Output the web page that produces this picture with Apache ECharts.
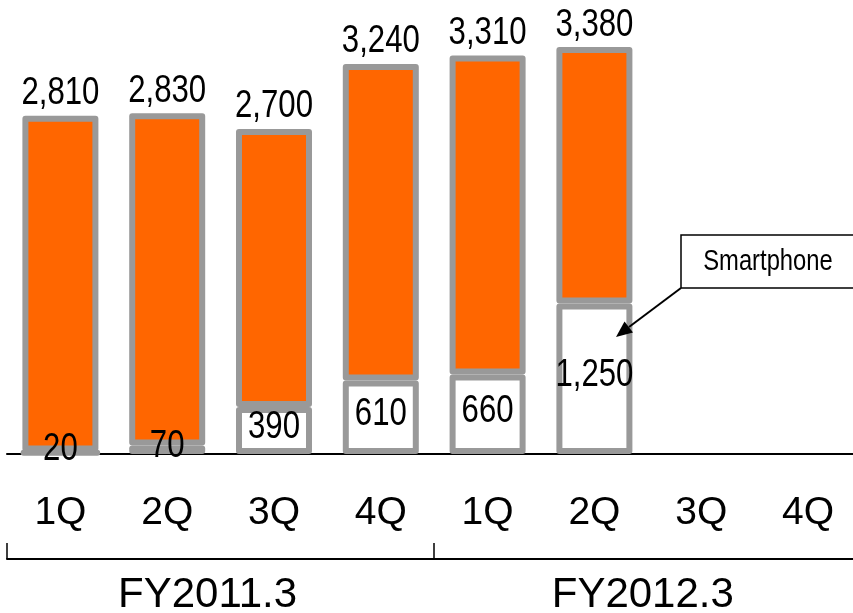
<!DOCTYPE html>
<html>
<head>
<meta charset="utf-8">
<script src="https://cdn.jsdelivr.net/npm/echarts@6/dist/echarts.min.js"></script>
<style>
  html, body { margin: 0; padding: 0; background: #fff; }
  #chart { width: 853px; height: 613px; }
</style>
</head>
<body>
<div id="chart"></div>
<script>
// Quarterly units: total shipments and the smartphone portion
const quarters = ['1Q', '2Q', '3Q', '4Q', '1Q', '2Q', '3Q', '4Q'];
const fiscalYears = ['FY2011.3', 'FY2012.3'];
const totals = [2810, 2830, 2700, 3240, 3310, 3380, null, null];
const smartphone = [20, 70, 390, 610, 660, 1250, null, null];

const others = totals.map((t, i) => (t == null ? null : t - smartphone[i]));
const fmt = v => v.toLocaleString('en-US');

const SANS = "'Liberation Sans', Arial, sans-serif";
const NARROW_SCALE = 0.82; // condensed look for the value labels

const chart = echarts.init(document.getElementById('chart'));

const barBorder = { borderColor: '#999999', borderWidth: 6, borderJoin: 'round' };

// Value labels drawn as condensed text at the bar positions
function renderLabels(params, api) {
  const i = api.value(0);
  const total = api.value(1);
  const smart = api.value(2);
  if (isNaN(total)) return null;
  const pTop = api.coord([i, total]);
  const pSmart = api.coord([i, smart]);
  const pBase = api.coord([i, 0]);
  const txt = (x, y, s) => ({
    type: 'text',
    x: x,
    y: y,
    scaleX: NARROW_SCALE,
    style: {
      text: s,
      fontFamily: SANS,
      fontSize: 38,
      fill: '#000',
      align: 'center',
      verticalAlign: 'middle'
    }
  });
  return {
    type: 'group',
    children: [
      txt(pTop[0], pTop[1] - 22, fmt(total)),
      txt(pSmart[0], (pSmart[1] + pBase[1]) / 2 - 3, fmt(smart))
    ]
  };
}

chart.setOption({
  animation: false,
  grid: {
    left: 7, width: 854.4, top: 0, bottom: 159,
    containLabel: false,
    outerBoundsMode: 'none'
  },
  xAxis: [
    {
      type: 'category',
      data: quarters,
      position: 'bottom',
      axisLine: { lineStyle: { color: '#000', width: 2 } },
      axisTick: { show: false },
      axisLabel: { color: '#000', fontFamily: SANS, fontSize: 39, margin: 40, interval: 0 }
    },
    {
      type: 'category',
      data: fiscalYears,
      position: 'bottom',
      offset: 105,
      axisLine: { lineStyle: { color: '#000', width: 2 } },
      axisTick: { show: true, inside: true, length: 16, lineStyle: { color: '#000', width: 1.5 } },
      axisLabel: {
        color: '#000', fontFamily: SANS, fontSize: 42, margin: 15, interval: 0,
        formatter: (v, i) => (i === 0 ? '{a|' + v + '}' : '{b|' + v + '}'),
        rich: {
          a: { fontFamily: SANS, fontSize: 42, color: '#000', padding: [0, 26, 0, 0] },
          b: { fontFamily: SANS, fontSize: 42, color: '#000', padding: [0, 10, 0, 0] }
        }
      }
    }
  ],
  yAxis: {
    type: 'value',
    min: 0,
    max: 3771,
    show: false,
    splitLine: { show: false }
  },
  series: [
    {
      name: 'Smartphone',
      type: 'bar',
      stack: 'units',
      xAxisIndex: 0,
      barWidth: 76,
      data: smartphone,
      itemStyle: Object.assign({ color: '#ffffff' }, barBorder),
      z: 2
    },
    {
      name: 'Others',
      type: 'bar',
      stack: 'units',
      xAxisIndex: 0,
      barWidth: 76,
      data: others,
      itemStyle: Object.assign({ color: '#FF6600' }, barBorder),
      z: 2
    },
    {
      name: 'Labels',
      type: 'custom',
      xAxisIndex: 0,
      renderItem: renderLabels,
      data: quarters.map((q, i) => [i, totals[i], smartphone[i]]),
      encode: { x: 0, y: 1 },
      clip: false,
      silent: true,
      z: 5
    }
  ],
  graphic: [
    // Callout box
    {
      type: 'rect',
      shape: { x: 681, y: 235, width: 190, height: 53 },
      style: { fill: '#fff', stroke: '#000', lineWidth: 1.5 },
      z: 10
    },
    {
      type: 'text',
      x: 768,
      y: 262,
      scaleX: NARROW_SCALE,
      style: {
        text: 'Smartphone',
        fontFamily: SANS,
        fontSize: 29,
        fill: '#000',
        align: 'center',
        verticalAlign: 'middle'
      },
      z: 11
    },
    // Pointer line and arrowhead
    {
      type: 'line',
      shape: { x1: 681, y1: 288, x2: 629, y2: 327 },
      style: { stroke: '#000', lineWidth: 2 },
      z: 10
    },
    {
      type: 'polygon',
      shape: { points: [[616, 337], [633, 332.5], [624.5, 321.5]] },
      style: { fill: '#000' },
      z: 10
    }
  ]
});
</script>
</body>
</html>
